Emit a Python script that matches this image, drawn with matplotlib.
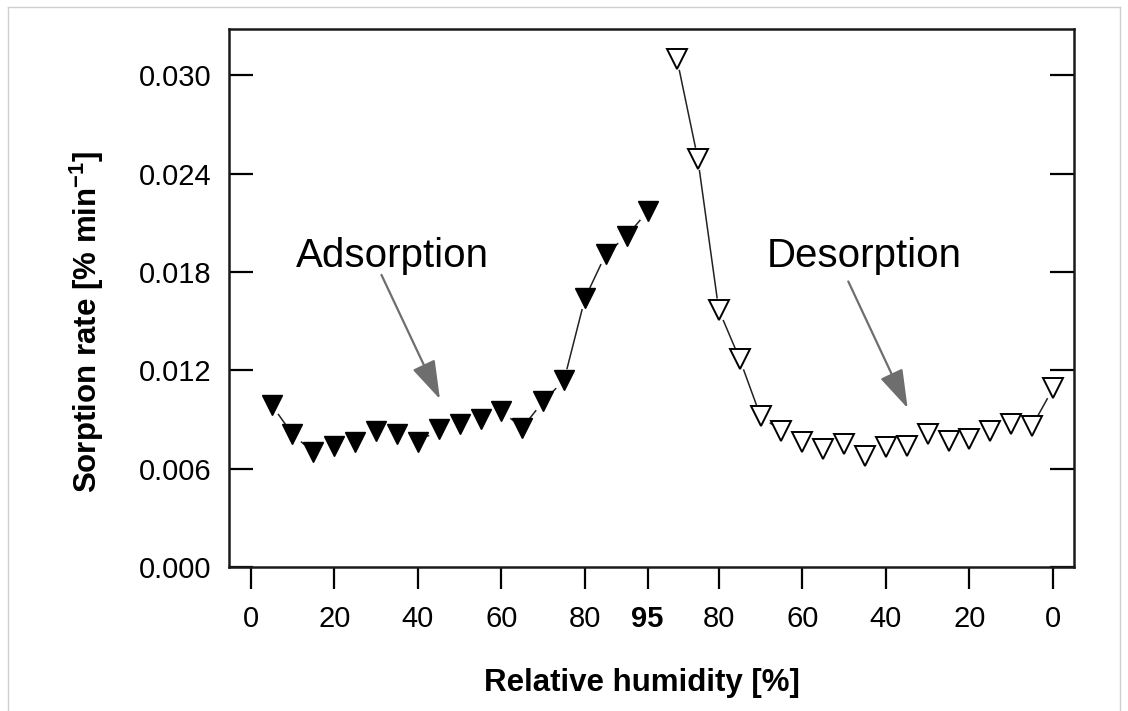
import numpy as np
from matplotlib import pyplot as plt
from matplotlib.lines import Line2D

plt.rcParams['font.family'] = ['Liberation Sans', 'DejaVu Sans']
plt.rcParams['mathtext.fontset'] = 'custom'
plt.rcParams['mathtext.rm'] = 'Liberation Sans'
plt.rcParams['mathtext.bf'] = 'Liberation Sans:bold'

# relative humidity steps and sorption rates
ads_rh = [5, 10, 15, 20, 25, 30, 35, 40, 45, 50, 55, 60, 65, 70, 75, 80, 85, 90, 95]
ads_rate = [0.0099, 0.0081, 0.0070, 0.0074, 0.0076, 0.0083, 0.0081, 0.0076, 0.0084, 0.0087,
            0.0090, 0.0095, 0.0085, 0.0101, 0.0114, 0.0164, 0.0191, 0.0202, 0.0217]

des_rh = [90, 85, 80, 75, 70, 65, 60, 55, 50, 45, 40, 35, 30, 25, 20, 15, 10, 5, 0]
des_rate = [0.0310, 0.0249, 0.0157, 0.0127, 0.0092, 0.0083, 0.0076, 0.0072, 0.0075, 0.0068,
            0.0073, 0.0074, 0.0081, 0.0077, 0.0078, 0.0083, 0.0087, 0.0086, 0.0109]

tick_rh = [0, 20, 40, 60, 80, 95, 80, 60, 40, 20, 0]
y_ticks = [0.000, 0.006, 0.012, 0.018, 0.024, 0.030]

# desorption branch is drawn mirrored to the right of the 95 % turn point
DES_END = 192
LINE_C = '#222222'
ARROW_C = '#6e6e6e'
GAP = 12  # px left free round each point, like R's type="b"


def gapped_line(ax, x, y):
    # connect the points but stop short of each marker
    pts = ax.transData.transform(np.column_stack([x, y]))
    inv = ax.transData.inverted()
    for p, q in zip(pts[:-1], pts[1:]):
        d = q - p
        L = np.hypot(*d)
        if L <= 2 * GAP:
            continue
        u = d / L
        a, b = inv.transform([p + u * GAP, q - u * GAP])
        ax.plot([a[0], b[0]], [a[1], b[1]], '-', color=LINE_C, lw=1.1, zorder=2)


ads_x = np.array(ads_rh, dtype=float)
des_x = DES_END - np.array(des_rh, dtype=float)
tick_x = [r for r in tick_rh[:6]] + [DES_END - r for r in tick_rh[6:]]

fig = plt.figure(figsize=(11.28, 7.11), dpi=100)
ax = fig.add_axes([0.2033, 0.2025, 0.7488, 0.7563])
ax.set_xlim(-5.1, 197)
ax.set_ylim(0, 0.0328)

gapped_line(ax, ads_x, ads_rate)
gapped_line(ax, des_x, des_rate)
ax.plot(ads_x, ads_rate, 'v', ms=14, mfc='black', mec='black', mew=1, zorder=3)
ax.plot(des_x, des_rate, 'v', ms=14, mfc='white', mec='black', mew=1.4, zorder=3)

ax.set_xticks(tick_x)
ax.set_xticklabels([str(t) for t in tick_rh], fontsize=21)
ax.get_xticklabels()[5].set_fontweight('bold')
ax.set_yticks(y_ticks)
ax.set_yticklabels([f'{v:.3f}' for v in y_ticks], fontsize=21)

ax.tick_params(axis='x', direction='out', length=16, width=1.6, pad=11)
ax.tick_params(axis='y', direction='in', length=17, width=1.6, pad=13, right=True)
for s in ax.spines.values():
    s.set_linewidth(1.8)
    s.set_color('#1a1a1a')

ax.set_xlabel('Relative humidity [%]', fontsize=22.5, fontweight='bold')
ax.xaxis.set_label_coords(0.4886, -0.2156)
ax.xaxis.label.set_va('center')
ax.set_ylabel(r'Sorption rate [% min$^{\mathbf{-1}}$]', fontsize=22.5, fontweight='bold')
ax.yaxis.set_label_coords(-0.1690, 0.455)
ax.yaxis.label.set_va('center')

ax.text(10.8, 0.01829, 'Adsorption', fontsize=29, ha='left', va='baseline')
ax.text(123.6, 0.01829, 'Desorption', fontsize=29, ha='left', va='baseline')

arrow = dict(arrowstyle='-|>,head_length=1.2,head_width=0.38', color=ARROW_C, lw=1.6,
             mutation_scale=20, shrinkA=0, shrinkB=0)
ax.annotate('', xy=(45.3, 0.01024), xytext=(31.3, 0.01782), arrowprops=arrow)
ax.annotate('', xy=(157.2, 0.00969), xytext=(143.0, 0.01742), arrowprops=arrow)

# light frame round the whole picture
x0, x1, y0 = 8 / 1128, 1120 / 1128, 1 - 7 / 711
for xs, ys in [([x0, x0], [0, y0]), ([x0, x1], [y0, y0]), ([x1, x1], [y0, 0])]:
    fig.add_artist(Line2D(xs, ys, transform=fig.transFigure, color='#cfcfcf', lw=1))

fig.savefig('out.png', dpi=100)
